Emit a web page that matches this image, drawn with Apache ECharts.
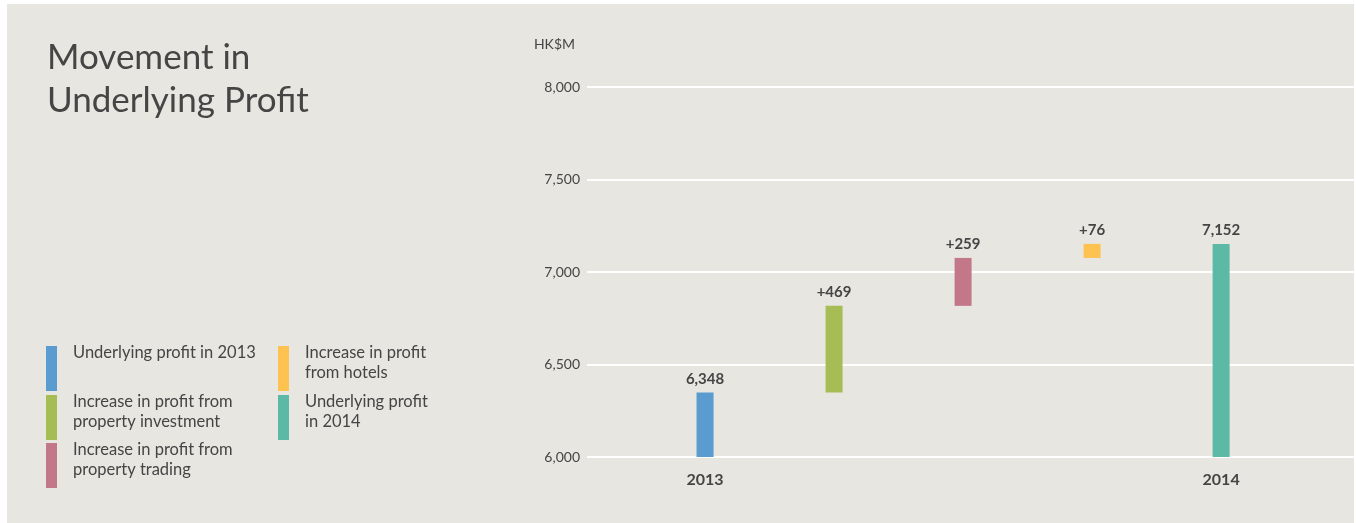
<!DOCTYPE html>
<html>
<head>
<meta charset="utf-8">
<title>Movement in Underlying Profit</title>
<script src="https://cdn.jsdelivr.net/npm/echarts@6/dist/echarts.min.js"></script>
<style>
  html, body { margin: 0; padding: 0; background: #e7e6e0; overflow: hidden; }
  #chart { width: 1356px; height: 523px; }
</style>
</head>
<body>
<div id="chart"></div>
<script>
// data
const categories = ['2013', '', '', '', '2014']
const values = [6348, 469, 259, 76, 7152]
const isTotal = [true, false, false, false, true]
const barLabels = ['6,348', '+469', '+259', '+76', '7,152']
const barColors = ['#5a9bd0', '#a6bd55', '#c27888', '#fec251', '#5bb9a5']
const legendNames = [
  'Underlying profit in 2013',
  'Increase in profit from\nproperty investment',
  'Increase in profit from\nproperty trading',
  'Increase in profit\nfrom hotels',
  'Underlying profit\nin 2014'
]
const yTicks = { min: 6000, max: 8000, step: 500 }

// floating bars: [index, low, high]
const bars = []
let running = 0
values.forEach((v, i) => {
  if (isTotal[i]) {
    bars.push([i, yTicks.min, v])
    running = v
  } else {
    bars.push([i, running, running + v])
    running += v
  }
})

const textColor = '#454545'
const panelColor = '#e7e6e0'
const barWidth = 17

// legend built as graphic, two columns
const legendGraphic = []
const rowTops = [346, 395, 443]
legendNames.forEach((name, i) => {
  const col = i < 3 ? 0 : 1
  const row = i < 3 ? i : i - 3
  const x = col === 0 ? 46 : 278
  const y = rowTops[row]
  legendGraphic.push({
    type: 'rect',
    shape: { x: x, y: y, width: 11, height: 45 },
    style: { fill: barColors[i] },
    silent: true
  })
  legendGraphic.push({
    type: 'text',
    x: x + 27,
    y: y - 3,
    style: {
      text: name,
      fill: textColor,
      fontSize: 16.5,
      fontFamily: 'Lato',
      lineHeight: 20,
      verticalAlign: 'top'
    },
    silent: true
  })
})

const chart = echarts.init(document.getElementById('chart'))

chart.setOption({
  backgroundColor: '#fff',
  animation: false,
  textStyle: { fontFamily: 'Lato' },
  title: [
    {
      text: 'Movement in\nUnderlying Profit',
      left: 42,
      top: 31,
      textStyle: {
        fontSize: 35,
        fontWeight: 'normal',
        fontFamily: 'Lato',
        color: textColor,
        lineHeight: 43
      }
    },
    {
      text: 'HK$M',
      right: 1356 - 580,
      top: 32,
      textStyle: {
        fontSize: 14,
        fontWeight: 'normal',
        fontFamily: 'Lato',
        color: textColor
      }
    }
  ],
  graphic: [
    {
      type: 'rect',
      z: -100,
      shape: { x: 7, y: 4, width: 1347, height: 530 },
      style: { fill: panelColor },
      silent: true
    },
    ...legendGraphic
  ],
  grid: {
    left: 587,
    right: 2,
    top: 87,
    bottom: 66
  },
  xAxis: {
    type: 'value',
    min: -0.915,
    max: 5.03,
    axisLine: { show: false },
    axisTick: { show: false },
    splitLine: { show: false },
    axisLabel: {
      customValues: [0, 4],
      formatter: (v) => categories[Math.round(v)],
      margin: 15,
      fontSize: 16,
      fontWeight: 'bold',
      color: textColor
    }
  },
  yAxis: {
    type: 'value',
    min: yTicks.min,
    max: yTicks.max,
    interval: yTicks.step,
    axisLine: { show: false },
    axisTick: { show: false },
    axisLabel: {
      margin: 7,
      fontSize: 14,
      color: textColor,
      formatter: (v) => v.toLocaleString('en-US')
    },
    splitLine: { lineStyle: { color: '#ffffff', width: 2 } }
  },
  series: [
    {
      type: 'custom',
      data: bars,
      encode: { x: 0, y: [1, 2] },
      renderItem: (params, api) => {
        const i = api.value(0)
        const top = api.coord([i, api.value(2)])
        const bottom = api.coord([i, api.value(1)])
        return {
          type: 'rect',
          shape: {
            x: top[0] - barWidth / 2,
            y: top[1],
            width: barWidth,
            height: bottom[1] - top[1]
          },
          style: { fill: barColors[params.dataIndex] },
          textContent: {
            style: {
              text: barLabels[params.dataIndex],
              fill: textColor,
              fontSize: 15,
              fontWeight: 'bold',
              fontFamily: 'Lato'
            }
          },
          textConfig: { position: 'top', distance: 6 }
        }
      }
    }
  ]
})

window.addEventListener('resize', () => chart.resize())
</script>
</body>
</html>
